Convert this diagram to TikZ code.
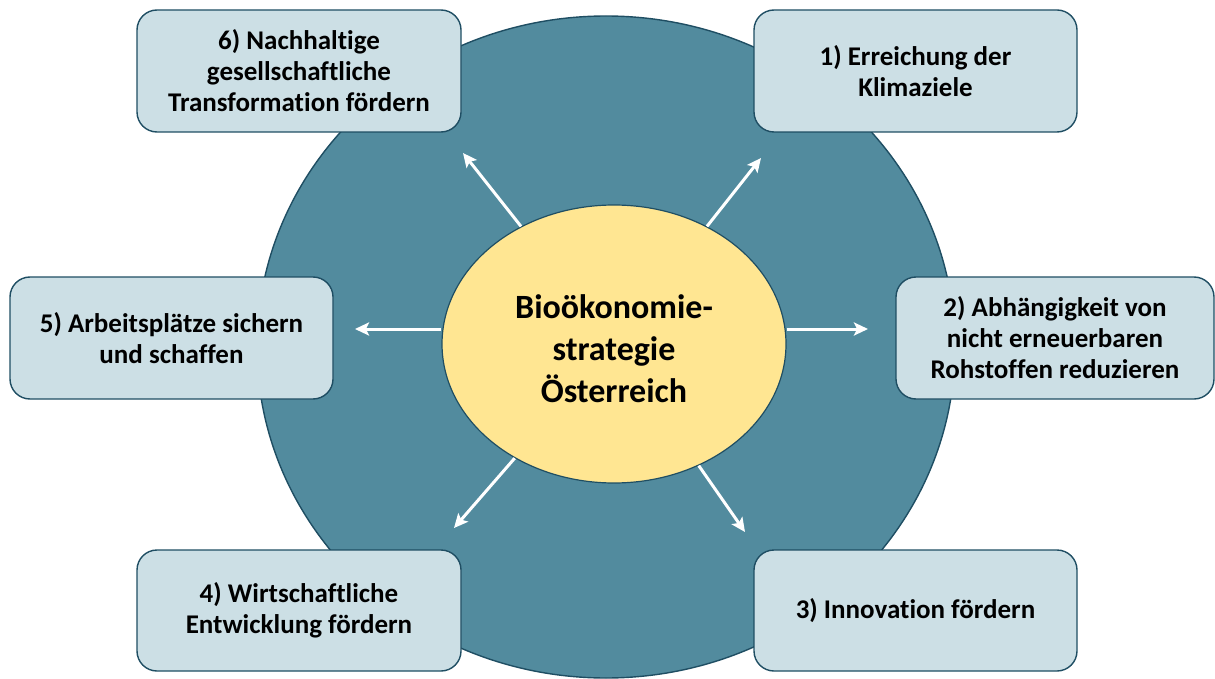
\documentclass[tikz,border=0pt]{standalone}
\usepackage{fontspec}
\setmainfont{Carlito}[Ligatures=NoCommon]
\usetikzlibrary{shapes.geometric,arrows.meta}
\definecolor{bgc}{HTML}{528B9E}
\definecolor{edge}{HTML}{1F4E63}
\definecolor{boxc}{HTML}{CCDFE5}
\definecolor{corec}{HTML}{FFE692}
\tikzset{
  goalbox/.style={draw=edge, line width=1.4pt, fill=boxc, rounded corners=20pt,
    align=center, inner sep=0pt, text=black,
    font=\fontsize{27}{31}\selectfont\bfseries},
  arr/.style={draw=white, line width=3pt,
    -{Stealth[length=14pt,width=13pt,inset=3pt]}}
}
\begin{document}
\begin{tikzpicture}[x=1pt,y=-1pt]
\useasboundingbox (0,0) rectangle (1215,679);
% big background disc
\node[ellipse, draw=edge, line width=1.4pt, fill=bgc, minimum width=698pt, minimum height=662pt, inner sep=0pt] (bg) at (606,347) {};
% arrow tips
\coordinate (t6) at (463,153);
\coordinate (t1) at (761,158);
\coordinate (t5) at (355,329);
\coordinate (t2) at (868,329);
\coordinate (t4) at (454,528);
\coordinate (t3) at (745,532);
% centre
\node[ellipse, draw=edge, line width=1.2pt, fill=corec, minimum width=344pt, minimum height=278pt, inner sep=0pt, font=\fontsize{34}{42}\selectfont\bfseries] (c) at (614,344) {\raisebox{-8pt}[\height][\depth]{\begin{tabular}{@{}c@{}}Bioökonomie-\\strategie\\Österreich\end{tabular}}};
\draw[arr] (c) -- (t6);
\draw[arr] (c) -- (t1);
\draw[arr] (c.west |- t5) -- (t5);
\draw[arr] (c.east |- t2) -- (t2);
\draw[arr] (c) -- (t4);
\draw[arr] (c) -- (t3);
% goal boxes
\node[goalbox, minimum width=324pt, minimum height=122pt] (b6) at (299,71) {6) Nachhaltige\\gesellschaftliche\\Transformation fördern};
\node[goalbox, minimum width=323pt, minimum height=122pt] (b1) at (915.5,71) {1) Erreichung der\\Klimaziele};
\node[goalbox, minimum width=323pt, minimum height=122pt] (b5) at (171.5,338) {5) Arbeitsplätze sichern\\und schaffen};
\node[goalbox, minimum width=318pt, minimum height=122pt] (b2) at (1055,338) {2) Abhängigkeit von\\nicht erneuerbaren\\Rohstoffen reduzieren};
\node[goalbox, minimum width=324pt, minimum height=121pt] (b4) at (299,610.5) {4) Wirtschaftliche\\Entwicklung fördern};
\node[goalbox, minimum width=323pt, minimum height=121pt] (b3) at (915.5,610.5) {3) Innovation fördern};
\end{tikzpicture}
\end{document}
